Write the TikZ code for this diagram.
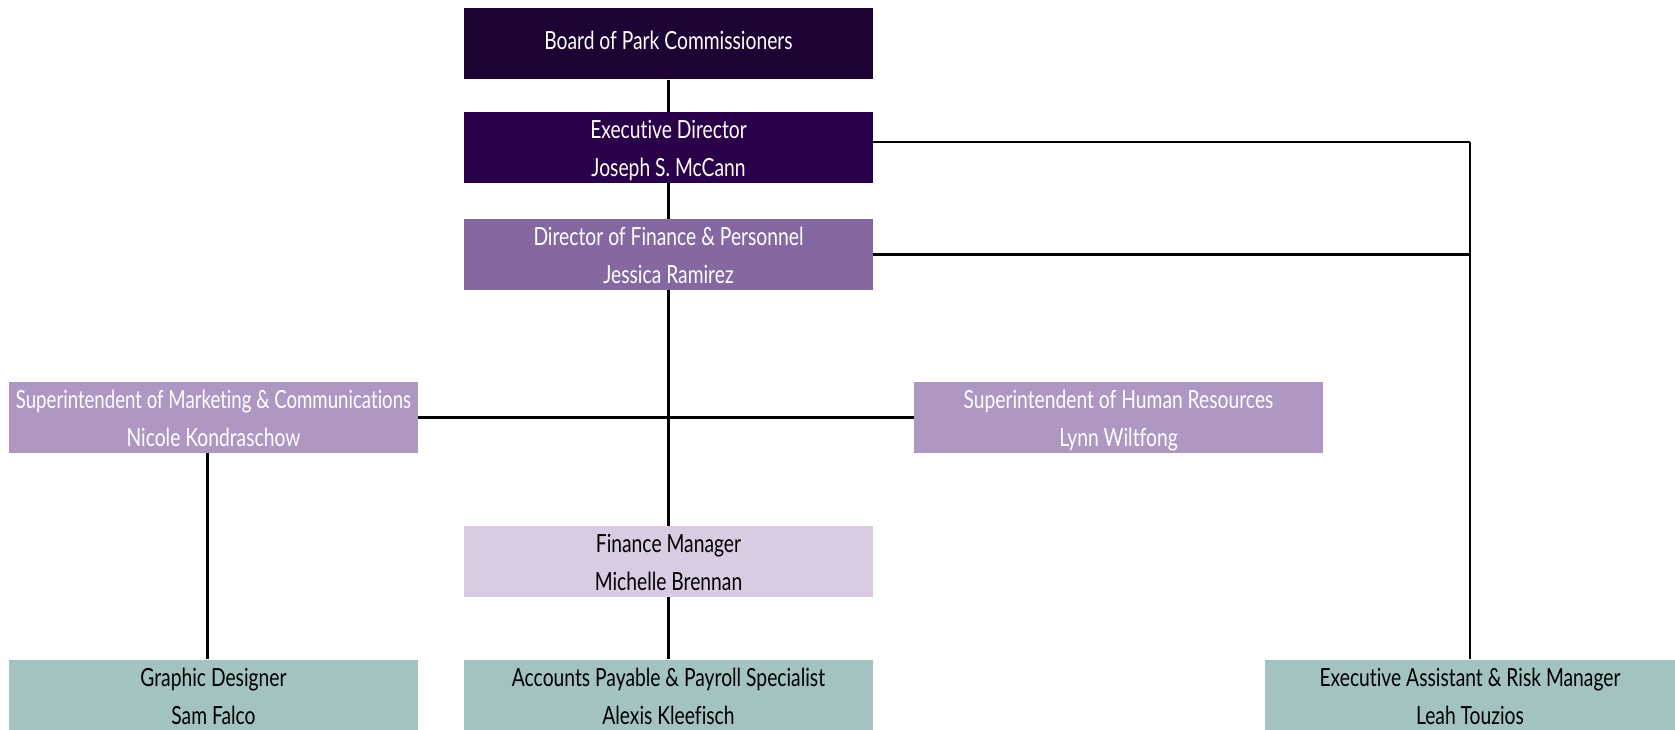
\documentclass[tikz,border=0pt]{standalone}
\usepackage{fontspec}
\setmainfont[FakeStretch=0.77,Ligatures=NoCommon]{Lato}
\newfontfamily\narrowfont[FakeStretch=0.745,Ligatures=NoCommon]{Lato}
\usepackage{tikz}

\definecolor{boardcol}{HTML}{1D0333}
\definecolor{execcol}{HTML}{2A0049}
\definecolor{dircol}{HTML}{8567A1}
\definecolor{supcol}{HTML}{AE98C3}
\definecolor{mgrcol}{HTML}{D9CBE2}
\definecolor{staffcol}{HTML}{A3C3C2}

% title line and name line of one box
\newcommand\postname[2]{\rule{0pt}{26.5pt}#1\\#2\rule[-6pt]{0pt}{0pt}}

\begin{document}
\begin{tikzpicture}[x=1pt,y=-1pt,
    box/.style={minimum width=409pt,minimum height=71pt,inner sep=0pt,align=center,
      font=\fontsize{25}{38}\selectfont},
    link/.style={line width=2.6pt}]
    \useasboundingbox (0,0) rectangle (1675,730);

    \node[box,fill=boardcol,text=white] (board) at (668.5,44) {Board of Park Commissioners\rule[-6.5pt]{0pt}{0pt}};
    \node[box,fill=execcol,text=white] (exec) at (668.5,147.5) {\postname{Executive Director}{Joseph S. McCann}};
    \node[box,fill=dircol,text=white] (dfp) at (668.5,254.5) {\postname{Director of Finance \& Personnel}{Jessica Ramirez}};

    \node[box,fill=supcol,text=white] (mkt) at (213.5,417.5) {\postname{{\narrowfont Superintendent of Marketing \& Communications}}{Nicole Kondraschow}};
    \node[box,fill=supcol,text=white] (hr) at (1118.5,417.5) {\postname{Superintendent of Human Resources}{Lynn Wiltfong}};

    \node[box,fill=mgrcol] (fm) at (668.5,561.5) {\postname{Finance Manager}{Michelle Brennan}};

    \node[box,fill=staffcol] (gd) at (213.5,695) {\postname{Graphic Designer}{Sam Falco}};
    \node[box,fill=staffcol] (ap) at (668.5,695) {\postname{Accounts Payable \& Payroll Specialist}{Alexis Kleefisch}};
    \node[box,fill=staffcol,minimum width=410pt] (ea) at (1470,695) {\postname{Executive Assistant \& Risk Manager}{Leah Touzios}};

    % lines
    \draw[link] (board.south) -- (exec.north);
    \draw[link] (exec.south) -- (dfp.north);
    \draw[link] (dfp.south) -- (fm.north);
    \draw[link] (fm.south) -- (ap.north);
    \draw[link] (mkt.east) -- (hr.west);
    \draw[link] ([xshift=-6pt]mkt.south) -- ([xshift=-6pt]gd.north);

    \coordinate (rt) at (1470,142);
    \draw[link] ([yshift=5.5pt]exec.east) -- (rt);
    \draw[link] (dfp.east) -- (dfp.east -| rt);
    \draw[link] (rt) -- (ea.north);
\end{tikzpicture}
\end{document}
